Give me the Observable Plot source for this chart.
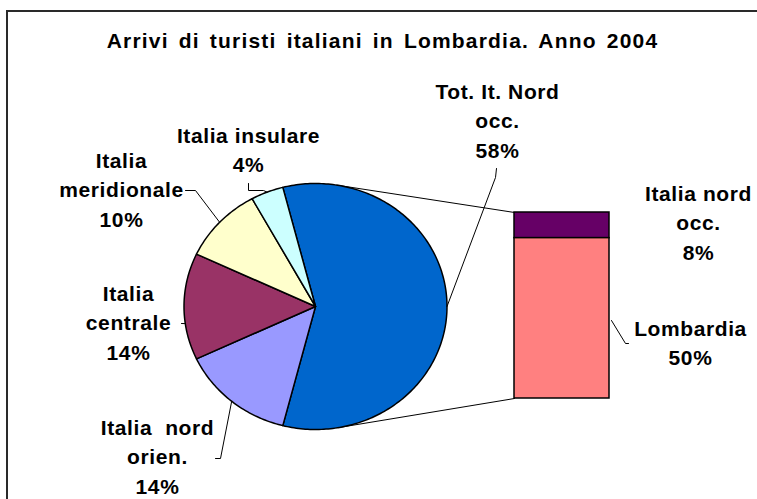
<!DOCTYPE html>
<html><head><meta charset="utf-8">
<script src="https://cdn.jsdelivr.net/npm/d3@7"></script>
<script src="https://cdn.jsdelivr.net/npm/@observablehq/plot@0.6"></script>
<style>
body{margin:0;background:#fff;}
#wrap{position:relative;width:757px;height:499px;overflow:hidden;background:#fff;}
#frame{position:absolute;left:6px;top:10px;width:800px;height:600px;border-left:2px solid #2a2a2a;border-top:2px solid #2a2a2a;}
#chart{position:absolute;left:0;top:0;}
#chart svg{background:transparent !important;}
</style></head><body>
<div id="wrap"><div id="frame"></div><div id="chart"></div></div>
<script>
// ---- data ----
const title = "Arrivi di turisti italiani in Lombardia. Anno 2004";
const pieCategories = ["Tot. It. Nord occ.", "Italia nord orien.", "Italia centrale", "Italia meridionale", "Italia insulare"];
const pieValues = [58, 14, 14, 10, 4];
const pieColors = ["#0066CC", "#9999FF", "#993366", "#FFFFCC", "#CCFFFF"];
const barCategories = ["Italia nord occ.", "Lombardia"];
const barValues = [8, 50];
const barColors = ["#660066", "#FF8080"];
const pieLabelLines = [["Tot. It. Nord", "occ."], ["Italia  nord", "orien."], ["Italia", "centrale"], ["Italia", "meridionale"], ["Italia insulare"]];
const barLabelLines = [["Italia nord", "occ."], ["Lombardia"]];

// ---- layout ----
const P = {cx: 315, cy: 306, rx: 131.5, ry: 123};
const B = {x1: 514, x2: 609, y1: 212, y2: 398};
const LH = 29.5;
const pieLabelLayout = [
  {x: 497, y: 98, leader: [[496, 168], [495, 177]]},
  {x: 157, y: 434, leader: [[215, 458], [220, 458]]},
  {x: 128, y: 300, leader: [[181, 323]], endAngle: 262},
  {x: 121, y: 167, leader: [[185, 190], [195, 190]]},
  {x: 248, y: 142, leader: [[248, 183], [248, 190], [263, 190]]}
];
const barLabelLayout = [
  {x: 698, y: 200, leader: null},
  {x: 690, y: 335, leader: [[628, 343], [625, 343], [611, 320]]}
];

// ---- geometry from values ----
const total = d3.sum(pieValues);
const start = 90 - pieValues[0] / total * 180;
let acc = start;
const slices = pieValues.map((v, i) => {
  const a0 = acc, a1 = acc + v / total * 360; acc = a1;
  return {i, a0, a1, mid: (a0 + a1) / 2};
});
const rad = a => a * Math.PI / 180;
const ex = a => P.cx + P.rx * Math.sin(rad(a));
const ey = a => P.cy - P.ry * Math.cos(rad(a));
function slicePoints(s) {
  const n = Math.max(2, Math.ceil(s.a1 - s.a0));
  const pts = [{x: P.cx, y: P.cy, name: pieCategories[s.i]}];
  for (let k = 0; k <= n; k++) {
    const a = s.a0 + (s.a1 - s.a0) * k / n;
    pts.push({x: ex(a), y: ey(a), name: pieCategories[s.i]});
  }
  return pts;
}
const barY = d3.scaleLinear([0, d3.sum(barValues)], [B.y1, B.y2]);
let bacc = 0;
const barRects = barValues.map((v, i) => {
  const r = {name: barCategories[i], y1: barY(bacc), y2: barY(bacc + v), x1: B.x1, x2: B.x2, color: barColors[i]};
  bacc += v; return r;
});
function tangent(px, py, upper) {
  const u = (px - P.cx) / P.rx, v = (py - P.cy) / P.ry;
  const d2 = u * u + v * v, h = Math.sqrt(d2 - 1);
  const c = [1, -1].map(s => ({u: (u - s * h * v) / d2, v: (v + s * h * u) / d2}));
  c.sort((a, b) => a.v - b.v);
  const t = upper ? c[0] : c[1];
  return {x: P.cx + t.u * P.rx, y: P.cy + t.v * P.ry};
}
const tTop = tangent(B.x1, B.y1, true), tBot = tangent(B.x1, B.y2, false);
const connectors = [
  {id: "top", x: tTop.x, y: tTop.y}, {id: "top", x: B.x1, y: B.y1},
  {id: "bot", x: tBot.x, y: tBot.y}, {id: "bot", x: B.x1, y: B.y2}
];

// leaders
const leaders = [];
pieLabelLayout.forEach((L, i) => {
  if (!L.leader) return;
  L.leader.forEach(([x, y]) => leaders.push({id: "p" + i, x, y}));
  const a = L.endAngle ?? slices[i].mid;
  leaders.push({id: "p" + i, x: ex(a), y: ey(a)});
});
barLabelLayout.forEach((L, i) => {
  if (!L.leader) return;
  L.leader.forEach(([x, y]) => leaders.push({id: "b" + i, x, y}));
});

// text rows
const textRows = [];
pieLabelLayout.forEach((L, i) => {
  const lines = [...pieLabelLines[i], pieValues[i] + "%"];
  lines.forEach((t, k) => textRows.push({text: t, x: L.x, y: L.y + k * LH}));
});
barLabelLayout.forEach((L, i) => {
  const lines = [...barLabelLines[i], barValues[i] + "%"];
  lines.forEach((t, k) => textRows.push({text: t, x: L.x, y: L.y + k * LH}));
});

const font = "'Liberation Sans', Arial, Helvetica, sans-serif";
const chart = Plot.plot({
  width: 757, height: 499, margin: 0,
  x: {domain: [0, 757], range: [0, 757], axis: null},
  y: {domain: [0, 499], range: [0, 499], axis: null},
  style: {background: "transparent"},
  marks: [
    Plot.line(connectors, {x: "x", y: "y", z: "id", stroke: "black", strokeWidth: 1}),
    ...slices.map(s => Plot.line(slicePoints(s), {x: "x", y: "y", fill: pieColors[s.i], stroke: "black", strokeWidth: 1.5, curve: "linear-closed", strokeLinejoin: "round"})),
    Plot.rect(barRects, {x1: "x1", x2: "x2", y1: "y1", y2: "y2", fill: "color", stroke: "black", strokeWidth: 1.5}),
    Plot.line(leaders, {x: "x", y: "y", z: "id", stroke: "black", strokeWidth: 1}),
    Plot.text(textRows, {x: "x", y: "y", text: "text", fontSize: 21, fontWeight: "bold", fontFamily: font, lineAnchor: "bottom", fill: "black"}),
    Plot.text([title], {x: () => 382, y: () => 47.5, text: d => d, fontSize: 21, fontWeight: "bold", fontFamily: font, lineAnchor: "bottom", fill: "black"})
  ],
  color: {type: "identity"}
});
d3.select(chart).selectAll("text")
  .style("letter-spacing", "0.6px")
  .filter(function () { return this.textContent === title; })
  .style("letter-spacing", "1.2px")
  .style("word-spacing", "3px");
document.getElementById("chart").appendChild(chart);
</script>
</body></html>
